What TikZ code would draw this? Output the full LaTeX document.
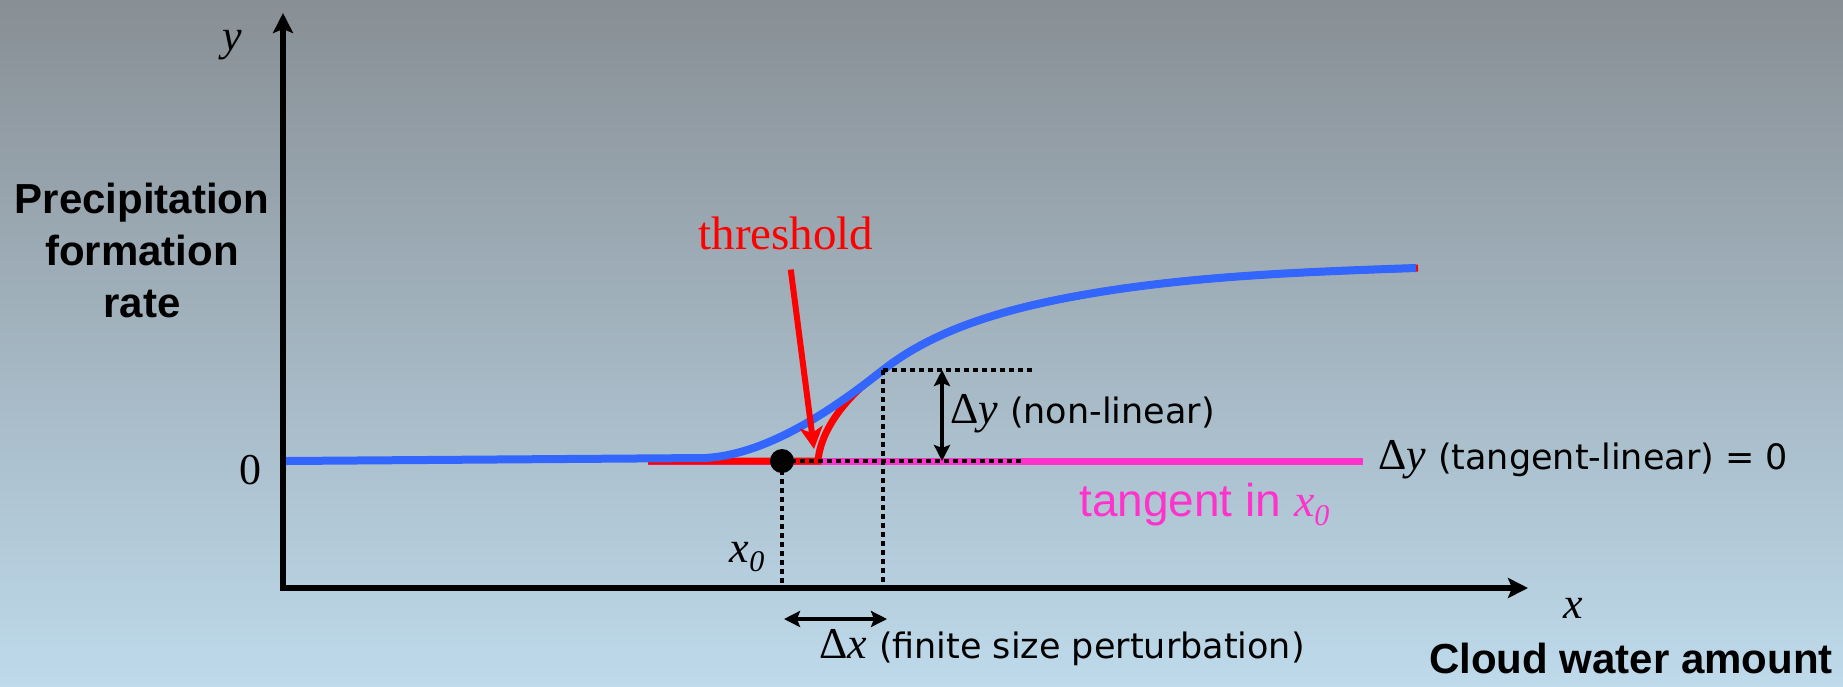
\documentclass[tikz,border=0pt]{standalone}
\usepackage{fontspec}
\setmainfont{Liberation Serif}
\newfontfamily\arial{Liberation Sans}
\newfontfamily\comic{DejaVu Sans}
\usetikzlibrary{arrows.meta,positioning}

\definecolor{bgtop}{RGB}{136,143,149}
\definecolor{bgbot}{RGB}{190,218,235}
\definecolor{curveblue}{RGB}{51,102,255}
\definecolor{tanpink}{RGB}{255,51,204}

\newcommand{\xzero}{\textit{x}\raisebox{-9pt}{\fontsize{30}{30}\selectfont\textit{0}}}
\newcommand{\deltay}{{\fontsize{44}{44}\selectfont Δ\textit{y}}}
\newcommand{\deltax}{{\fontsize{44}{44}\selectfont Δ\textit{x}}}
\newcommand{\comictext}[1]{{\comic\fontsize{35}{35}\selectfont\hspace{12pt}#1}}

\tikzset{
  every node/.style={inner sep=0pt},
  axis/.style={line width=6pt,{Stealth[length=20pt,width=20pt,inset=4pt]}-{Stealth[length=20pt,width=20pt,inset=4pt]}},
  curve/.style={line width=8pt},
  dotline/.style={line width=4.5pt,dash pattern=on 4.5pt off 4.5pt},
  dim/.style={line width=4pt,{Stealth[length=16pt,width=16pt,inset=3pt]}-{Stealth[length=16pt,width=16pt,inset=3pt]}},
  serif/.style={font=\fontsize{44}{44}\selectfont},
  bold/.style={font=\arial\bfseries\fontsize{42}{52}\selectfont,align=center},
}

\begin{document}
\begin{tikzpicture}[x=1pt,y=-1pt]
    \fill[top color=bgtop,bottom color=bgbot] (0,0) rectangle (1843,686);

    % axes
    \coordinate (o) at (283,588);
    \coordinate (yt) at (283,13);
    \coordinate (xt) at (1528,588);
    \draw[axis] (yt) -- (o) -- (xt);

    \node[serif] (ylab) at (232,45) {\textit{y}};
    \node[serif] (xlab) at (1573,608) {\textit{x}};
    \node[serif] (zero) at (250,470) {0};
    \node[bold] (ytitle) at (142,250) {Precipitation\\formation\\rate};
    \node[bold] (xtitle) at (1631,658) {Cloud water amount};

    % tangent in x0
    \coordinate (t0) at (648,461);
    \coordinate (t1) at (1363,461);
    \draw[tanpink,line width=7pt] (t0) -- (t1);

    % threshold curve and smooth curve
    \draw[red,line width=7pt] (t0) -- (818,461) .. controls (820,435) and (840,400) .. (883,370)
        .. controls (940,325) and (1020,305) .. (1100,292)
        .. controls (1200,276) and (1300,272) .. (1418,268);
    \draw[curveblue,curve] (286,461) -- (705,458) .. controls (760,455) and (820,420) .. (883,370)
        .. controls (940,325) and (1020,305) .. (1100,292)
        .. controls (1200,276) and (1300,272) .. (1416,268);

    % perturbation
    \node[circle,fill=black,minimum size=24pt] (p0) at (782,461) {};
    \coordinate (p1) at (883,370);
    \coordinate (a0) at (782,588);
    \coordinate (a1) at (883,588);
    \coordinate (h1) at (1035,370);
    \coordinate (h0) at (1023,461);
    \draw[dotline] (p0.center) -- (a0);
    \draw[dotline] (p1) -- (a1);
    \draw[dotline] (p1) -- (h1);
    \draw[dotline] (p0.center) -- (h0);

    \coordinate (dyt) at (942,370);
    \coordinate (dyb) at (942,461);
    \draw[dim] (dyt) -- (dyb);
    \coordinate (dxl) at (784,619);
    \coordinate (dxr) at (887,619);
    \draw[dim] (dxl) -- (dxr);

    \node[anchor=west] (dynl) at (950,414) {\deltay\comictext{(non-linear)}};
    \node[anchor=west] (dytl) at (1378,460) {\deltay\comictext{(tangent-linear) = 0}};
    \node[anchor=west] (dx) at (819,648) {\deltax\comictext{(finite size perturbation)}};
    \node[anchor=west,text=tanpink,font=\arial\fontsize{46}{46}\selectfont] (tan) at (1079,505) {tangent in {\rmfamily\xzero}};
    \node[serif] (x0lab) at (747,557) {\xzero};

    % threshold
    \node[serif,text=red,font=\fontsize{47}{47}\selectfont] (thr) at (786,233) {threshold};
    \coordinate (thrtip) at (814,449);
    \draw[red,line width=6pt,-{Stealth[length=22pt,width=23pt,inset=6pt]},shorten <=20pt] (thr) -- (thrtip);
\end{tikzpicture}
\end{document}
